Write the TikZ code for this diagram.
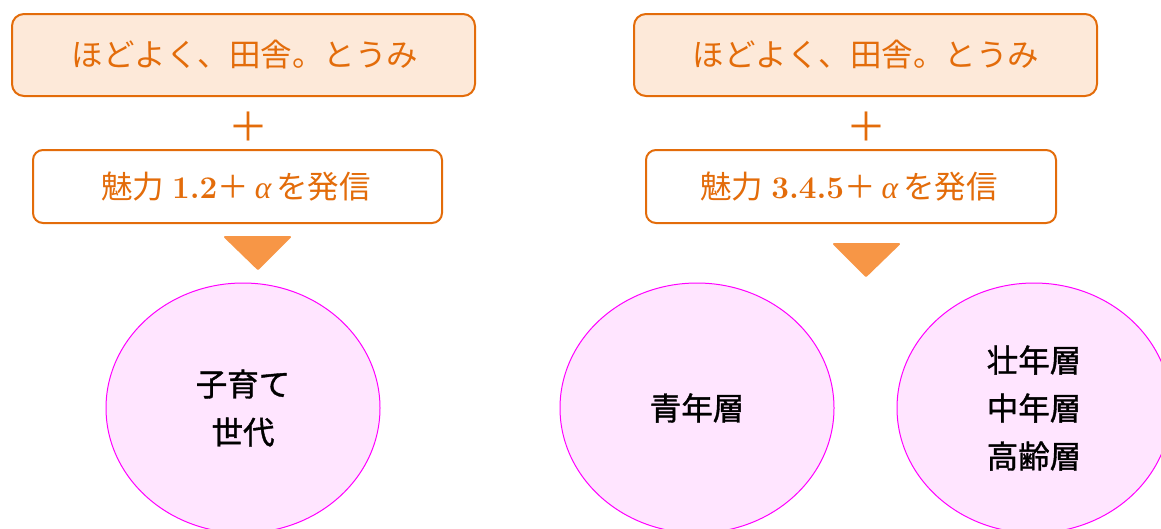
\documentclass[tikz,border=0pt]{standalone}
\usepackage{fontspec}
\newfontfamily\jp{Noto Sans CJK JP}
\newfontfamily\jpb[FakeBold=1.2]{Noto Sans CJK JP}
\newfontfamily\grk{Liberation Serif}
\usetikzlibrary{shapes.geometric}
\definecolor{orng}{HTML}{E36C0A}
\definecolor{peach}{HTML}{FDE9D9}
\definecolor{tri}{HTML}{F79646}
\definecolor{pinkfill}{HTML}{FFE5FF}
\definecolor{mag}{HTML}{FF00FF}
\tikzset{
  topbox/.style={draw=orng, line width=2pt, fill=peach, rounded corners=12pt},
  subbox/.style={draw=orng, line width=2pt, fill=white, rounded corners=10pt},
  otext/.style={text=orng, font=\jp\fontsize{31.5}{36}\selectfont},
  plussign/.style={text=orng, font=\jp\fontsize{40}{40}\selectfont},
  downtri/.style={fill=tri, draw=tri, line width=2pt, line join=round},
  target/.style={draw=mag, line width=1pt, fill=pinkfill},
  btext/.style={text=black, font=\jpb\fontsize{31.5}{48}\selectfont, align=center}
}
\newcommand{\numb}[1]{{\rmfamily\bfseries #1}}
\newcommand{\alf}{{\grk\itshape α}}
\begin{document}
\begin{tikzpicture}[x=1pt,y=-1pt]
\useasboundingbox (0,0) rectangle (1161,528);
% left column
\draw[topbox] (12,14) rectangle (475,96);
\node[otext] (lt) at (245,55) {ほどよく、田舎。とうみ};
\node[plussign] (lp) at (248,127) {＋};
\draw[subbox] (33,150) rectangle (442,223);
\node[otext] (ls) at (236,187) {魅力\hspace{8pt}\numb{1.2}＋\hspace{6pt}\alf\hspace{5pt}を発信};
\draw[downtri] (225,237) -- (290,237) -- (258,269) -- cycle;
\node[coordinate] (ltri) at (258,253) {};
\draw[target] (243,408) ellipse [x radius=137, y radius=125];
\node[btext] (le) at (243,408) {子育て\\世代};
% right column
\draw[topbox] (634,14) rectangle (1097,96);
\node[otext] (rt) at (866,55) {ほどよく、田舎。とうみ};
\node[plussign] (rp) at (866,127) {＋};
\draw[subbox] (646,150) rectangle (1056,223);
\node[otext] (rs) at (849,187) {魅力\hspace{8pt}\numb{3.4.5}＋\hspace{6pt}\alf\hspace{5pt}を発信};
\draw[downtri] (834,244) -- (899,244) -- (866,276) -- cycle;
\node[coordinate] (rtri) at (866,260) {};
\draw[target] (697,408) ellipse [x radius=137, y radius=125];
\node[btext] (me) at (697,408) {青年層};
\draw[target] (1034,408) ellipse [x radius=137, y radius=125];
\node[btext] (re) at (1034,408) {壮年層\\中年層\\高齢層};
\end{tikzpicture}
\end{document}
